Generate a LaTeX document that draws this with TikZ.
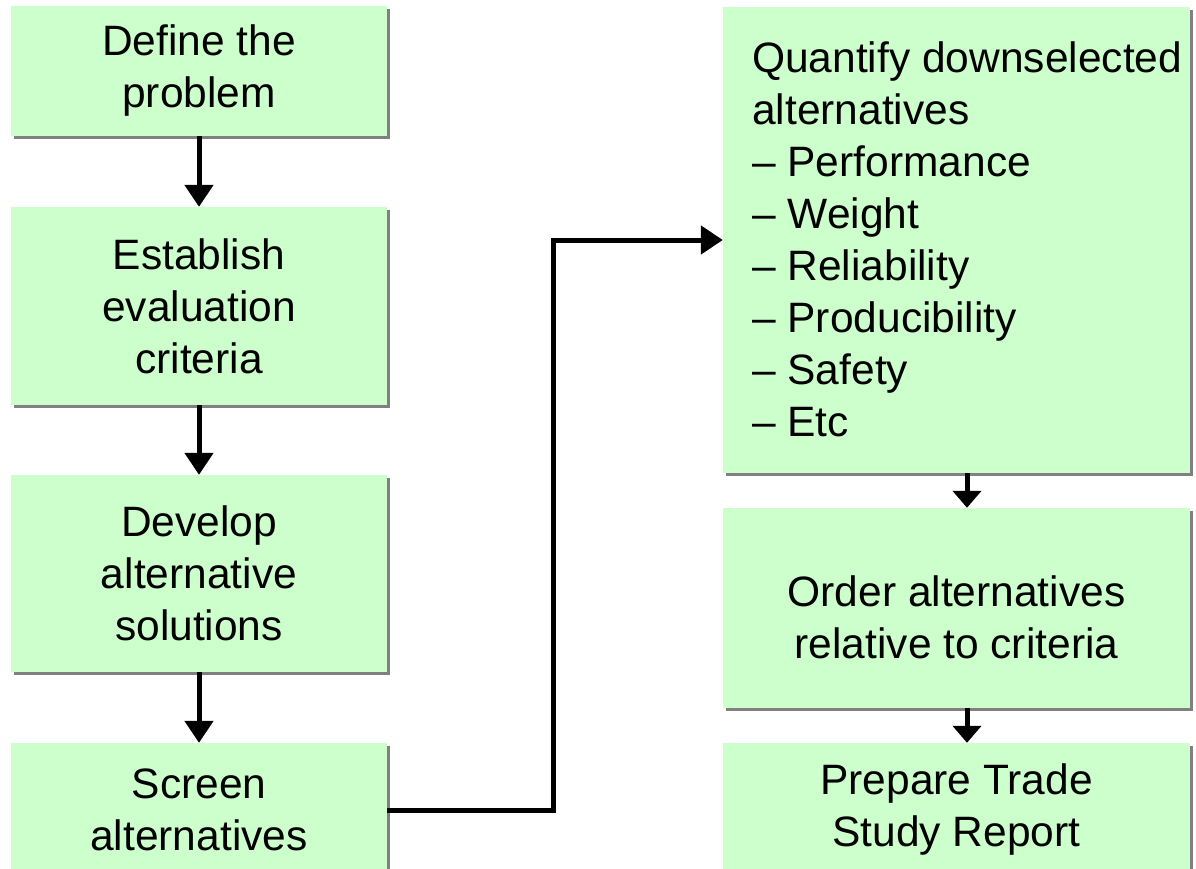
\documentclass[tikz,border=0pt]{standalone}
\usepackage{fontspec}
\setmainfont{Liberation Sans}
\usetikzlibrary{arrows.meta,shadows}
\definecolor{boxgreen}{HTML}{CCFFCC}
\definecolor{shadowgrey}{HTML}{808080}

\begin{document}
\begin{tikzpicture}[x=1pt,y=-1pt,
  stepbox/.style={fill=boxgreen, draw=none, inner sep=0pt, align=center,
    font=\fontsize{42.5}{52}\selectfont,
    drop shadow={shadow xshift=3pt, shadow yshift=-3pt, fill=shadowgrey, opacity=1}},
  boxtext/.style={inner sep=0pt, font=\fontsize{42.5}{52}\selectfont},
  flow/.style={line width=5pt, -{Triangle[width=28pt,length=22pt]}},
  shortflow/.style={line width=5pt, -{Triangle[width=28pt,length=17pt]}}]

\useasboundingbox (0,0) rectangle (1196,869);
\clip (0,0) rectangle (1196,869);

% left column
\node[stepbox, minimum width=376pt, minimum height=130pt] (def) at (199,71) {Define the\\problem};
\node[stepbox, minimum width=376pt, minimum height=198pt] (est) at (199,306) {Establish\\evaluation\\criteria};
\node[stepbox, minimum width=376pt, minimum height=197pt] (dev) at (199,573.5) {Develop\\alternative\\solutions};
\node[stepbox, minimum width=376pt, minimum height=134pt] (scr) at (199,810) {Screen\\alternatives};

% right column
\node[stepbox, minimum width=467pt, minimum height=466pt] (qnt) at (956.5,240) {};
\node[boxtext, align=left, anchor=west] (qtxt) at (752,239) {Quantify downselected\\alternatives\\– Performance\\– Weight\\– Reliability\\– Producibility\\– Safety\\– Etc};
\node[stepbox, minimum width=467pt, minimum height=200pt] (ord) at (956.5,608) {};
\node[boxtext, align=center] (ordtxt) at (956.5,617) {Order alternatives\\relative to criteria};
\node[stepbox, minimum width=467pt, minimum height=134pt] (prep) at (956.5,810) {Prepare Trade\\Study Report};

% connectors
\draw[flow] (def.south) -- (est.north);
\draw[flow] (est.south) -- (dev.north);
\draw[flow] (dev.south) -- (scr.north);

\coordinate (rx) at (967,0);
\draw[shortflow] (qnt.south -| rx) -- (ord.north -| rx);
\draw[shortflow] (ord.south -| rx) -- (prep.north -| rx);

\coordinate (jog) at (553,0);
\draw[flow] (scr.east) -- (scr.east -| jog) -- (qnt.west -| jog) -- (qnt.west);
\end{tikzpicture}
\end{document}
